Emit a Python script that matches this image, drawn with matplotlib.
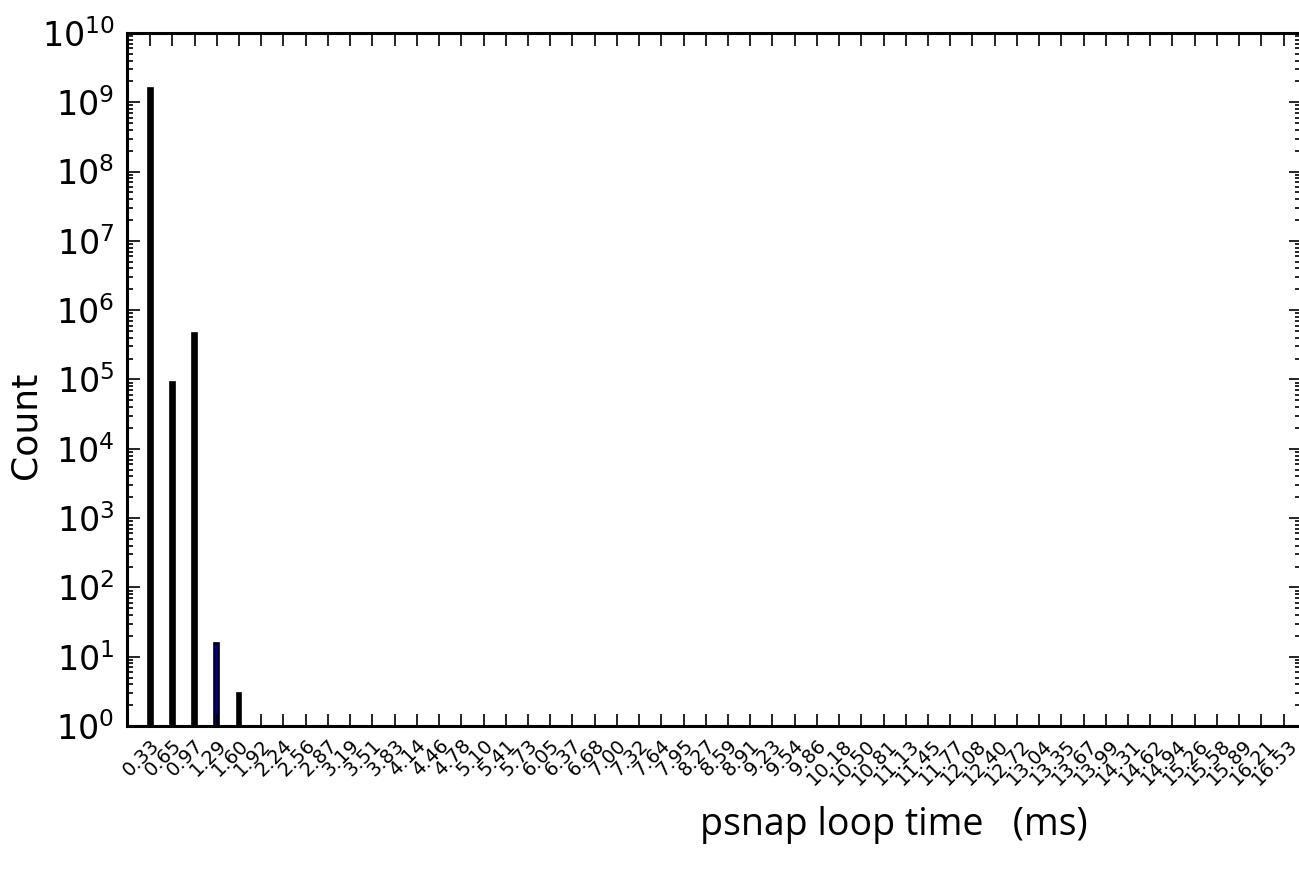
import numpy as np
import matplotlib
matplotlib.use('Agg')
import matplotlib.pyplot as plt
import matplotlib.transforms as mtransforms
from matplotlib.ticker import LogLocator

# bin labels (ms) and counts
bins = ['0.33', '0.65', '0.97', '1.29', '1.60', '1.92', '2.24', '2.56', '2.87', '3.19',
        '3.51', '3.83', '4.14', '4.46', '4.78', '5.10', '5.41', '5.73', '6.05', '6.37',
        '6.68', '7.00', '7.32', '7.64', '7.95', '8.27', '8.59', '8.91', '9.23', '9.54',
        '9.86', '10.18', '10.50', '10.81', '11.13', '11.45', '11.77', '12.08', '12.40', '12.72',
        '13.04', '13.35', '13.67', '13.99', '14.31', '14.62', '14.94', '15.26', '15.58', '15.89',
        '16.21', '16.53']
counts = [1.6e9, 9.2e4, 4.7e5, 16, 3] + [0] * 47
bar_colors = ['black', 'black', 'black', '#000080', 'black'] + ['black'] * 47

x = np.arange(len(bins))
counts = np.array(counts, dtype=float)
mask = counts > 0

fig = plt.figure(figsize=(12.99, 8.75), dpi=100)
ax = fig.add_axes([0.0978, 0.1703, 0.904, 0.792])

ax.bar(x[mask], counts[mask], width=0.22, color=[c for c, m in zip(bar_colors, mask) if m],
       edgecolor='black', linewidth=1.2)

ax.set_yscale('log')
ax.set_ylim(1, 1e10)
ax.set_xlim(-1.04, 51.8)

ax.set_xticks(x)
ax.set_xticklabels(bins, rotation=45, fontsize=14)

ax.yaxis.set_major_locator(LogLocator(base=10, numticks=20))
ax.yaxis.set_minor_locator(LogLocator(base=10, subs=np.arange(2, 10), numticks=20))

ax.tick_params(axis='both', which='major', direction='in', length=9, width=1.2,
               top=True, right=True)
ax.tick_params(axis='y', which='minor', direction='in', length=4.5, width=1.2,
               left=True, right=True)
ax.tick_params(axis='y', which='major', labelsize=24, pad=9)
ax.tick_params(axis='x', which='major', pad=7)

for s in ax.spines.values():
    s.set_linewidth(2.2)

ax.set_ylabel('Count', fontsize=26)
ax.yaxis.set_label_coords(-0.072, 0.434)
fig.text(0.688, 0.057, 'psnap loop time   (ms)', fontsize=27, family='Open Sans',
         ha='center', va='center')

# nudge the rotated labels a little to the left, as in the original
fig.canvas.draw()
shift = mtransforms.ScaledTranslation(-9 / 100, 0, fig.dpi_scale_trans)
for t in ax.xaxis.get_major_ticks():
    t.label1.set_transform(t.label1.get_transform() + shift)

fig.savefig('out.png', dpi=100)
